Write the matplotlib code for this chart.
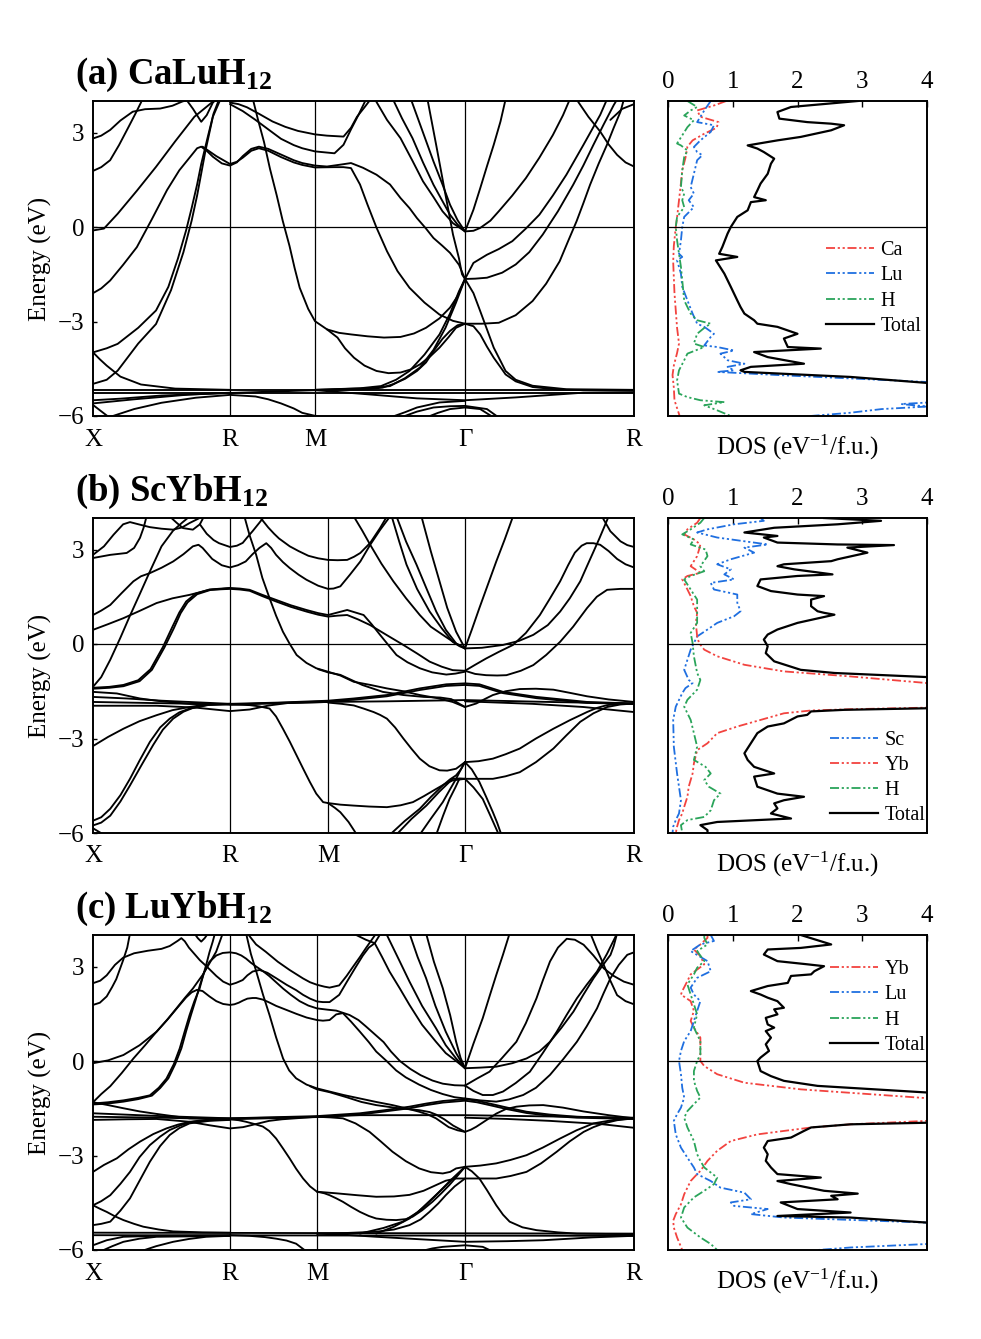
import numpy as np
import matplotlib
matplotlib.use('Agg')
import matplotlib.pyplot as plt

plt.rcParams['font.family'] = ['Liberation Serif', 'DejaVu Serif']
plt.rcParams['mathtext.fontset'] = 'custom'
plt.rcParams['mathtext.rm'] = 'Liberation Serif'
plt.rcParams['mathtext.it'] = 'Liberation Serif:italic'
plt.rcParams['mathtext.bf'] = 'Liberation Serif:bold'

# high-symmetry path (band energies are given as (u, E): u = 0 X, 1 R, 2 M, 3 Gamma, 4 R)
kpath_labels = ['X', 'R', 'M', 'Γ', 'R']
kticks_a = [0, 137, 222, 372, 541]
kticks_b = [0, 137, 235, 372, 541]
kticks_c = [0, 137, 224, 372, 541]

titles = [r'(a) CaLuH$_{\mathbf{12}}$', r'(b) ScYbH$_{\mathbf{12}}$', r'(c) LuYbH$_{\mathbf{12}}$']

# ---------------- CaLuH12 bands ----------------
bands_a = [
    [(0, -5.17), (4, -5.17)],
    [(0, -5.27), (4, -5.27)],
    [(0, -5.5), (0.2, -5.45), (0.5, -5.35), (1, -5.27), (2, -5.18), (2.35, -5.31), (2.68, -5.44), (3, -5.5),
     (3.3, -5.41), (3.7, -5.26), (4, -5.25)],
    [(0, -5.6), (0.3, -5.47), (0.7, -5.32), (1, -5.26)],
    [(0, -5.65), (0.06, -5.85), (0.12, -6.05)],
    [(0.11, -6.05), (0.3, -5.78), (0.5, -5.58), (0.75, -5.42), (1, -5.33), (1.3, -5.38), (1.45, -5.47),
     (1.6, -5.6), (1.75, -5.76), (1.85, -5.9), (2.05, -6.05)],
    [(0, -3.98), (0.05, -4.2), (0.1, -4.4), (0.2, -4.75), (0.35, -5.0), (0.6, -5.13), (1, -5.17)],
    [(0, -3.98), (0.1, -3.85), (0.18, -3.71), (0.33, -3.2), (0.46, -2.65), (0.55, -1.9), (0.62, -1.0),
     (0.68, -0.1), (0.72, 0.6), (0.76, 1.35), (0.79, 2.0), (0.84, 2.9), (0.88, 3.6), (0.92, 4.05)],
    [(0, -4.98), (0.1, -4.85), (0.18, -4.56), (0.33, -3.7), (0.46, -3.08), (0.57, -2.0), (0.66, -0.8),
     (0.72, 0.2), (0.76, 1.0), (0.82, 2.4), (0.875, 3.5), (0.93, 4.05)],
    [(0, -2.1), (0.06, -1.95), (0.125, -1.7), (0.22, -1.2), (0.32, -0.64), (0.43, 0.25), (0.54, 1.17),
     (0.63, 1.8), (0.71, 2.23), (0.76, 2.5), (0.79, 2.55), (0.83, 2.42), (0.875, 2.23), (0.94, 2.02),
     (1, 1.95), (1.08, 2.05), (1.15, 2.25), (1.25, 2.48), (1.34, 2.55), (1.45, 2.48), (1.6, 2.3),
     (1.75, 2.12), (1.85, 2.03), (2, 1.95), (2.08, 1.92), (2.17, 1.98), (2.24, 2.03), (2.32, 1.88),
     (2.41, 1.66), (2.5, 1.35), (2.57, 0.92), (2.63, 0.6), (2.68, 0.28), (2.74, -0.05), (2.79, -0.35),
     (2.85, -0.6), (2.9, -0.82), (2.96, -1.2), (3, -1.65), (3.06, -1.64), (3.13, -1.61), (3.22, -1.45),
     (3.3, -1.19), (3.38, -0.8), (3.46, -0.24), (3.55, 0.5), (3.64, 1.34), (3.7, 1.95), (3.76, 2.61),
     (3.82, 3.25), (3.88, 3.87), (3.9, 4.05)],
    [(0.8, 2.55), (0.85, 2.4), (0.9, 2.25), (1, 2.0), (1.08, 2.07), (1.15, 2.2), (1.25, 2.42), (1.34, 2.5),
     (1.45, 2.42), (1.6, 2.22), (1.75, 2.05), (1.85, 1.97), (2, 1.89), (2.13, 1.9), (2.19, 1.9),
     (2.24, 1.87), (2.3, 1.35), (2.35, 0.71), (2.41, -0.02), (2.48, -0.77), (2.55, -1.4), (2.63, -1.93),
     (2.73, -2.4), (2.83, -2.78), (2.92, -2.98), (3, -3.07), (3.1, -3.07), (3.2, -3.04), (3.3, -2.8),
     (3.4, -2.35), (3.48, -1.8), (3.56, -1.09), (3.61, -0.45), (3.66, 0.18), (3.7, 0.75), (3.74, 1.34),
     (3.79, 2.0), (3.84, 2.61), (3.88, 3.15), (3.92, 3.66), (3.94, 4.05)],
    [(0, 2.81), (0.06, 2.9), (0.125, 3.08), (0.2, 3.38), (0.29, 3.66), (0.38, 3.74), (0.49, 3.76),
     (0.58, 3.85), (0.65, 3.98), (0.7, 4.05)],
    [(0.68, 4.05), (0.73, 3.75), (0.79, 3.34), (0.83, 3.55), (0.875, 3.95), (0.9, 4.05)],
    [(0, 1.78), (0.06, 1.9), (0.125, 2.12), (0.19, 2.6), (0.26, 3.18), (0.31, 3.6), (0.35, 3.95), (0.36, 4.05)],
    [(0, -0.11), (0.08, -0.05), (0.18, 0.42), (0.32, 1.15), (0.46, 1.91), (0.6, 2.72), (0.74, 3.5),
     (0.875, 3.98), (0.9, 4.05)],
    [(1, 3.95), (1.1, 3.9), (1.2, 3.8), (1.35, 3.58), (1.5, 3.35), (1.65, 3.18), (1.8, 3.05), (2, 2.94),
     (2.08, 2.9), (2.19, 2.87), (2.24, 3.15), (2.28, 3.5), (2.33, 3.8), (2.37, 4.05)],
    [(1, 3.9), (1.15, 3.68), (1.3, 3.4), (1.45, 3.1), (1.6, 2.8), (1.75, 2.6), (1.85, 2.5), (2, 2.4),
     (2.13, 2.34), (2.19, 2.61), (2.24, 3.1), (2.29, 3.56), (2.34, 4.05)],
    [(1.27, 4.05), (1.33, 3.4), (1.4, 2.7), (1.47, 1.85), (1.55, 1.0), (1.62, 0.2), (1.7, -0.6),
     (1.76, -1.3), (1.82, -1.93), (1.92, -2.6), (2, -2.99), (2.08, -3.25), (2.16, -3.36), (2.24, -3.41),
     (2.35, -3.47), (2.46, -3.51), (2.57, -3.49), (2.66, -3.38), (2.74, -3.2), (2.83, -2.9), (2.9, -2.56),
     (2.95, -2.2), (3, -1.65)],
    [(2.08, -3.25), (2.15, -3.51), (2.2, -3.85), (2.26, -4.15), (2.33, -4.4), (2.41, -4.57), (2.49, -4.64),
     (2.57, -4.62), (2.64, -4.52), (2.7, -4.36), (2.77, -4.1), (2.83, -3.83), (2.89, -3.5), (2.94, -3.2),
     (3, -3.07)],
    [(2, -5.17), (2.3, -5.12), (2.44, -5.05), (2.54, -4.85), (2.63, -4.57), (2.73, -4.05), (2.83, -3.41),
     (2.9, -2.75), (2.96, -2.04), (3, -1.65), (3.05, -2.1), (3.09, -2.67), (3.13, -3.25), (3.17, -3.83),
     (3.21, -4.25), (3.24, -4.57), (3.3, -4.85), (3.4, -5.04), (3.6, -5.15), (4, -5.17)],
    [(2, -5.17), (2.35, -5.12), (2.5, -5.05), (2.6, -4.8), (2.7, -4.46), (2.79, -3.9), (2.87, -3.2),
     (2.94, -2.4), (3, -1.65), (3.05, -1.14), (3.13, -0.88), (3.2, -0.7), (3.28, -0.45), (3.36, -0.05),
     (3.44, 0.39), (3.52, 1.0), (3.6, 1.66), (3.7, 2.6), (3.8, 3.56), (3.84, 4.05)],
    [(2, -5.18), (2.35, -5.15), (2.45, -5.1), (2.52, -4.99), (2.6, -4.82), (2.68, -4.57), (2.74, -4.3),
     (2.79, -3.94), (2.85, -3.55), (2.9, -3.3), (2.95, -3.12), (3, -3.07), (3.05, -3.15), (3.09, -3.41),
     (3.13, -3.8), (3.17, -4.15), (3.21, -4.45), (3.24, -4.68), (3.3, -4.9), (3.4, -5.08), (3.55, -5.16),
     (3.7, -5.18), (4, -5.2)],
    [(2.4, 4.05), (2.48, 3.4), (2.57, 2.82), (2.65, 2.1), (2.72, 1.45), (2.79, 0.95), (2.85, 0.5),
     (2.92, 0.12), (3, -0.14), (3.05, -0.12), (3.09, -0.03), (3.15, 0.2), (3.2, 0.5), (3.28, 1.0),
     (3.36, 1.55), (3.44, 2.2), (3.52, 2.92), (3.58, 3.55), (3.62, 4.05)],
    [(2.52, 4.05), (2.58, 3.45), (2.65, 2.82), (2.72, 2.05), (2.79, 1.34), (2.85, 0.82), (2.9, 0.39),
     (2.95, 0.08), (3, -0.14), (3.05, 0.55), (3.09, 1.23), (3.13, 1.93), (3.17, 2.61), (3.21, 3.35),
     (3.24, 4.05)],
    [(2.64, 4.05), (2.72, 3.0), (2.79, 2.08), (2.85, 1.35), (2.9, 0.71), (2.95, 0.22), (3, -0.14)],
    [(2.75, 4.05), (2.81, 2.55), (2.87, 1.02), (2.92, -0.24), (2.96, -1.0), (2.98, -1.5), (3, -1.65)],
    [(3.66, 4.05), (3.73, 3.5), (3.8, 3.03), (3.85, 2.62), (3.9, 2.29), (3.95, 2.05), (4, 1.92)],
    [(3.86, 3.4), (3.93, 3.75), (4, 3.9)],
    [(2.5, -6.05), (2.6, -5.88), (2.68, -5.73), (2.83, -5.57), (3, -5.52)],
    [(2.57, -6.05), (2.68, -5.86), (2.79, -5.73), (2.9, -5.69), (3, -5.68), (3.13, -5.78), (3.2, -6.05)],
    [(2.74, -6.05), (2.82, -5.9), (2.9, -5.78), (3, -5.73), (3.09, -5.78), (3.17, -6.05)],
]

# ---------------- ScYbH12 bands ----------------
bands_b = [
    # X-R-M upper region
    [(0, 2.73), (0.126, 2.83), (0.246, 2.89), (0.3, 3.05), (0.343, 3.37), (0.37, 3.7), (0.391, 4.05)],
    [(0, 2.83), (0.08, 3.1), (0.15, 3.47), (0.22, 3.8), (0.27, 3.87), (0.35, 3.78), (0.415, 3.71),
     (0.5, 3.66), (0.585, 3.63), (0.65, 3.7), (0.705, 3.84), (0.76, 3.96), (0.8, 4.05)],
    [(0.56, 4.05), (0.61, 3.85), (0.657, 3.68), (0.729, 3.63), (0.78, 3.8), (0.81, 4.05)],
    [(0, 0.92), (0.06, 1.06), (0.126, 1.24), (0.21, 1.62), (0.295, 1.99), (0.35, 2.15), (0.415, 2.25),
     (0.5, 2.42), (0.585, 2.62), (0.66, 2.85), (0.729, 3.1), (0.77, 3.15), (0.8, 3.05), (0.87, 2.7),
     (0.94, 2.5), (1, 2.43), (1.08, 2.5), (1.16, 2.62), (1.23, 2.85), (1.3, 3.05), (1.37, 3.2),
     (1.42, 3.05), (1.47, 2.83), (1.54, 2.6), (1.61, 2.41), (1.7, 2.2), (1.78, 2.04), (1.9, 1.85),
     (2, 1.75), (2.04, 1.76), (2.09, 1.83), (2.16, 2.2), (2.236, 2.62), (2.308, 3.15), (2.38, 3.62),
     (2.453, 4.05)],
    [(0.78, 3.8), (0.83, 3.5), (0.88, 3.3), (0.92, 3.2), (1, 3.08), (1.07, 3.12), (1.13, 3.21),
     (1.18, 3.4), (1.23, 3.58), (1.3, 3.85), (1.35, 4.05)],
    [(1.3, 4.05), (1.39, 3.7), (1.45, 3.5), (1.5, 3.35), (1.61, 3.1), (1.7, 2.95), (1.8, 2.8), (1.9, 2.72),
     (2, 2.67), (2.07, 2.66), (2.14, 2.67), (2.19, 2.77), (2.236, 2.89), (2.308, 3.21), (2.38, 3.68),
     (2.43, 4.05)],
    [(2.188, 4.05), (2.25, 3.6), (2.308, 3.15), (2.39, 2.55), (2.477, 1.99), (2.57, 1.45), (2.67, 0.92),
     (2.75, 0.55), (2.838, 0.29), (2.92, 0.05), (3, -0.14)],
    # dome around R 1.75
    [(0, 0.45), (0.11, 0.63), (0.222, 0.82), (0.34, 1.05), (0.464, 1.3), (0.58, 1.45), (0.705, 1.56),
     (0.85, 1.72), (1, 1.75), (1.1, 1.73), (1.2, 1.69), (1.33, 1.52), (1.47, 1.35), (1.62, 1.18),
     (1.78, 1.03), (1.9, 0.93), (2, 0.87), (2.07, 0.9), (2.14, 0.92), (2.22, 0.78), (2.308, 0.6),
     (2.43, 0.28), (2.55, -0.03), (2.65, -0.3), (2.742, -0.56), (2.83, -0.72), (2.91, -0.83), (3, -0.85)],
    [(0, -1.39), (0.12, -1.36), (0.222, -1.3), (0.33, -1.15), (0.42, -0.8), (0.51, -0.1), (0.58, 0.55),
     (0.63, 1.0), (0.68, 1.35), (0.75, 1.6), (0.85, 1.73), (1, 1.78), (1.1, 1.76), (1.2, 1.72),
     (1.33, 1.56), (1.47, 1.4), (1.62, 1.23), (1.78, 1.08), (1.9, 0.98), (2, 0.92), (2.07, 1.0),
     (2.14, 1.08), (2.2, 1.0), (2.26, 0.92), (2.32, 0.62), (2.38, 0.29), (2.44, -0.03), (2.5, -0.35),
     (2.58, -0.58), (2.67, -0.77), (2.76, -0.9), (2.863, -0.97), (2.93, -0.94), (3, -0.88)],
    [(0, -1.42), (0.12, -1.39), (0.222, -1.34), (0.34, -1.18), (0.43, -0.82), (0.52, -0.12), (0.59, 0.5),
     (0.64, 0.98), (0.69, 1.32), (0.76, 1.58), (0.86, 1.72), (1, 1.77)],
    [(0, -1.36), (0.06, -1.05), (0.126, -0.5), (0.2, 0.2), (0.27, 0.9), (0.343, 1.6), (0.415, 2.3),
     (0.5, 3.1), (0.585, 3.6), (0.65, 3.85), (0.705, 4.05)],
    # flat cluster
    [(0, -1.52), (0.174, -1.57), (0.343, -1.73), (0.5, -1.82), (0.705, -1.9), (1, -1.92), (1.5, -1.88),
     (2, -1.84), (2.43, -1.82), (3, -1.78), (3.5, -1.84), (4, -1.89)],
    [(0, -1.68), (0.25, -1.73), (0.5, -1.8), (1, -1.9), (1.5, -1.86), (2, -1.8), (2.188, -1.73), (2.43, -1.62),
     (2.67, -1.41), (2.863, -1.28), (3, -1.25), (3.085, -1.28), (3.225, -1.52), (3.423, -1.68),
     (3.722, -1.84), (4, -1.89)],
    [(0, -1.84), (0.5, -1.88), (1, -1.92), (2, -1.82), (2.188, -1.77), (2.43, -1.66), (2.67, -1.46),
     (2.863, -1.33), (3, -1.3), (3.085, -1.33), (3.225, -1.56), (3.423, -1.72), (3.722, -1.87), (4, -1.9)],
    [(0, -1.96), (0.25, -1.96), (0.464, -1.96), (0.75, -2.02), (1, -2.13), (1.2, -2.08), (1.4, -1.95),
     (1.6, -1.87), (2, -1.84)],
    [(3, -1.82), (3.4, -1.9), (3.7, -2.0), (4, -2.16)],
    [(1.147, 4.05), (1.2, 3.45), (1.267, 2.83), (1.33, 2.1), (1.404, 1.45), (1.47, 0.9), (1.54, 0.39),
     (1.61, 0.0), (1.68, -0.35), (1.78, -0.6), (1.88, -0.77), (2, -0.88), (2.09, -1.0), (2.188, -1.2),
     (2.31, -1.3), (2.43, -1.41), (2.55, -1.5), (2.67, -1.62), (2.8, -1.72), (2.91, -1.84), (3, -2.0),
     (3.066, -1.89), (3.12, -1.74), (3.165, -1.62), (3.24, -1.5), (3.324, -1.43), (3.42, -1.42),
     (3.523, -1.45), (3.62, -1.55), (3.722, -1.66), (3.85, -1.76), (4, -1.84)],
    [(1.9, -0.8), (2, -0.9), (2.09, -0.98), (2.25, -1.3), (2.4, -1.52), (2.55, -1.62), (2.7, -1.68),
     (2.82, -1.7), (2.9, -1.75), (2.96, -1.9), (3, -2.0)],
    # lower X-R-M
    [(0, -3.24), (0.11, -2.95), (0.222, -2.69), (0.34, -2.45), (0.464, -2.26), (0.58, -2.1), (0.705, -2.0),
     (0.826, -1.92), (1, -1.9)],
    [(0, -5.61), (0.06, -5.5), (0.126, -5.23), (0.2, -4.8), (0.27, -4.28), (0.34, -3.7), (0.415, -3.11),
     (0.49, -2.65), (0.56, -2.37), (0.63, -2.17), (0.705, -2.05), (0.826, -1.94), (1, -1.9)],
    [(0, -5.76), (0.06, -5.67), (0.126, -5.45), (0.2, -5.0), (0.27, -4.49), (0.36, -3.8), (0.44, -3.2),
     (0.51, -2.72), (0.585, -2.37), (0.66, -2.15), (0.729, -2.03), (0.85, -1.93), (1, -1.9)],
    [(0, -5.85), (0.077, -6.05)],
    [(1, -1.92), (1.2, -1.94), (1.3, -1.98), (1.404, -2.05), (1.47, -2.3), (1.54, -2.69), (1.61, -3.1),
     (1.68, -3.54), (1.75, -3.98), (1.815, -4.38), (1.88, -4.75), (1.95, -5.02), (2, -5.05), (2.09, -5.1),
     (2.188, -5.13), (2.3, -5.16), (2.43, -5.18), (2.53, -5.12), (2.62, -5.02), (2.7, -4.83), (2.79, -4.6),
     (2.85, -4.45), (2.91, -4.33), (3, -4.28), (3.08, -4.28), (3.165, -4.28), (3.24, -4.2), (3.324, -4.07),
     (3.42, -3.75), (3.523, -3.32), (3.6, -2.9), (3.682, -2.47), (3.76, -2.2), (3.841, -2.0), (3.92, -1.92),
     (4, -1.89)],
    [(2, -5.05), (2.05, -5.2), (2.09, -5.34), (2.15, -5.65), (2.21, -6.05)],
    [(2, -1.86), (2.1, -1.9), (2.188, -1.95), (2.26, -2.05), (2.333, -2.16), (2.38, -2.25), (2.43, -2.37),
     (2.49, -2.65), (2.55, -3.0), (2.61, -3.33), (2.67, -3.64), (2.74, -3.88), (2.814, -4.01), (2.87, -4.02),
     (2.935, -3.96), (3, -3.75), (3.08, -3.72), (3.165, -3.64), (3.24, -3.5), (3.324, -3.32), (3.42, -3.0),
     (3.523, -2.69), (3.62, -2.42), (3.722, -2.16), (3.78, -2.03), (3.841, -1.94), (3.92, -1.9), (4, -1.89)],
    # fan below Gamma
    [(2.453, -6.05), (2.56, -5.62), (2.67, -5.23), (2.75, -4.86), (2.838, -4.49), (2.89, -4.3), (2.935, -4.17),
     (2.97, -3.98), (3, -3.75)],
    [(2.5, -6.05), (2.61, -5.55), (2.718, -5.13), (2.81, -4.7), (2.91, -4.28), (2.96, -4.27), (3, -4.28)],
    [(2.67, -6.05), (2.75, -5.55), (2.838, -5.02), (2.89, -4.62), (2.935, -4.28), (2.97, -3.98), (3, -3.75)],
    [(2.79, -6.05), (2.84, -5.45), (2.887, -4.92), (2.93, -4.55), (2.959, -4.28), (3, -4.28)],
    [(3, -3.75), (3.04, -3.98), (3.085, -4.38), (3.125, -4.85), (3.165, -5.34), (3.19, -5.67), (3.215, -6.05)],
    [(3, -4.28), (3.05, -4.55), (3.105, -4.92), (3.15, -5.45), (3.2, -6.05)],
    # upper M-Gamma-R
    [(2.465, 4.05), (2.52, 3.25), (2.573, 2.52), (2.65, 1.75), (2.742, 1.03), (2.83, 0.5), (2.91, 0.07),
     (2.96, -0.07), (3, -0.14)],
    [(2.5, 4.05), (2.57, 3.25), (2.646, 2.52), (2.72, 1.75), (2.79, 1.03), (2.86, 0.45), (2.935, 0.02),
     (3, -0.14)],
    [(2.682, 4.05), (2.75, 2.95), (2.814, 1.99), (2.87, 1.15), (2.935, 0.39), (3, -0.14)],
    [(3, -0.14), (3.04, 0.45), (3.085, 1.14), (3.135, 1.88), (3.185, 2.62), (3.235, 3.32), (3.284, 4.05)],
    [(3, -0.14), (3.1, -0.12), (3.225, -0.03), (3.32, 0.1), (3.404, 0.29), (3.49, 0.6), (3.563, 1.03),
     (3.62, 1.45), (3.682, 1.99), (3.72, 2.45), (3.761, 2.94), (3.795, 3.35), (3.821, 3.68), (3.85, 4.05)],
    [(3, -0.85), (3.06, -0.95), (3.125, -0.99), (3.19, -1.0), (3.245, -0.99), (3.33, -0.85), (3.404, -0.67),
     (3.48, -0.35), (3.563, 0.07), (3.64, 0.55), (3.722, 1.14), (3.78, 1.5), (3.841, 1.72), (3.92, 1.75),
     (4, 1.75)],
    [(3, -0.85), (3.06, -0.66), (3.125, -0.46), (3.2, -0.25), (3.284, -0.03), (3.36, 0.35), (3.443, 0.92),
     (3.5, 1.42), (3.563, 1.99), (3.61, 2.5), (3.65, 2.9), (3.69, 3.12), (3.72, 3.2), (3.76, 3.2), (3.8, 3.15),
     (3.85, 2.95), (3.9, 2.7), (3.95, 2.53), (4, 2.43)],
    [(3.81, 4.05), (3.86, 3.58), (3.92, 3.26), (3.96, 3.14), (4, 3.08)],
]

# ---------------- LuYbH12 bands ----------------
bands_c = [
    [(0, -5.45), (4, -5.48)],
    [(0, -5.53), (4, -5.55)],
    [(0, -5.85), (0.1, -5.69), (0.222, -5.58), (0.464, -5.55), (1, -5.53)],
    [(0.053, -6.05), (0.14, -5.88), (0.222, -5.74), (0.34, -5.64), (0.464, -5.58), (1, -5.55)],
    [(0.343, -6.05), (0.46, -5.88), (0.585, -5.74), (0.7, -5.65), (0.826, -5.58), (1, -5.55)],
    [(1, -5.53), (1.223, -5.55), (1.4, -5.59), (1.53, -5.64), (1.65, -5.7), (1.76, -5.8), (1.88, -6.05)],
    [(2, -5.48), (2.2, -5.52), (2.4, -5.58), (2.7, -5.66), (3, -5.74), (3.25, -5.72), (3.463, -5.69),
     (3.75, -5.6), (4, -5.55)],
    [(2.69, -6.05), (2.78, -5.95), (2.85, -5.9), (3, -5.85), (3.105, -5.9), (3.165, -6.05)],
    [(0, -4.58), (0.05, -4.69), (0.1, -4.79), (0.16, -4.93), (0.222, -5.05), (0.3, -5.17), (0.367, -5.26),
     (0.48, -5.35), (0.585, -5.41), (0.8, -5.44), (1, -5.45)],
    [(0, -4.58), (0.06, -4.45), (0.126, -4.26), (0.2, -3.9), (0.27, -3.52), (0.34, -3.05), (0.415, -2.67),
     (0.49, -2.4), (0.56, -2.19), (0.64, -2.04), (0.729, -1.93), (0.86, -1.88), (1, -1.85)],
    [(0, -5.21), (0.06, -5.17), (0.126, -5.1), (0.2, -4.75), (0.27, -4.36), (0.34, -3.8), (0.415, -3.2),
     (0.49, -2.7), (0.56, -2.35), (0.63, -2.13), (0.705, -1.98), (0.85, -1.9), (1, -1.87)],
    [(0, -3.52), (0.08, -3.3), (0.174, -3.09), (0.26, -2.8), (0.343, -2.56), (0.44, -2.32), (0.536, -2.14),
     (0.62, -2.02), (0.705, -1.93), (0.826, -1.87), (1, -1.85)],
    # flat cluster
    [(0, -1.31), (0.11, -1.4), (0.222, -1.5), (0.34, -1.6), (0.464, -1.68), (0.6, -1.76), (0.705, -1.82),
     (1, -1.82), (1.5, -1.8), (2, -1.77), (2.29, -1.72), (3, -1.72), (4, -1.8)],
    [(0, -1.66), (0.5, -1.75), (1, -1.82), (2, -1.75), (2.29, -1.66), (2.46, -1.56), (2.625, -1.45),
     (2.74, -1.35), (2.85, -1.27), (3, -1.21), (3.07, -1.26), (3.145, -1.35), (3.25, -1.48), (3.364, -1.61),
     (3.5, -1.7), (3.662, -1.77), (4, -1.82)],
    [(0, -1.77), (0.5, -1.8), (1, -1.85), (2, -1.78), (2.29, -1.7), (2.46, -1.6), (2.625, -1.5),
     (2.74, -1.4), (2.85, -1.32), (3, -1.26), (3.07, -1.31), (3.145, -1.4), (3.25, -1.53), (3.364, -1.65),
     (3.5, -1.74), (3.662, -1.8), (4, -1.84)],
    [(0, -1.87), (0.25, -1.85), (0.464, -1.84), (0.705, -1.93), (0.85, -2.04), (1, -2.14), (1.15, -2.1),
     (1.3, -2.0), (1.45, -1.9), (1.6, -1.85), (2, -1.77)],
    [(3, -1.8), (3.25, -1.84), (3.5, -1.9), (3.8, -2.0), (4, -2.12)],
    [(1.185, 4.05), (1.24, 3.4), (1.3, 2.86), (1.38, 2.1), (1.454, 1.46), (1.53, 0.75), (1.61, 0.08),
     (1.68, -0.3), (1.76, -0.55), (1.88, -0.75), (2, -0.87), (2.085, -0.97), (2.18, -1.08), (2.29, -1.19),
     (2.4, -1.3), (2.51, -1.4), (2.6, -1.5), (2.69, -1.61), (2.75, -1.7), (2.804, -1.82), (2.85, -1.97),
     (2.89, -2.1), (2.95, -2.2), (3, -2.25), (3.035, -2.18), (3.066, -2.09), (3.12, -1.9), (3.185, -1.67),
     (3.24, -1.53), (3.304, -1.45), (3.38, -1.41), (3.463, -1.4), (3.58, -1.48), (3.7, -1.6), (3.85, -1.72),
     (4, -1.82)],
    [(1.92, -0.8), (2, -0.9), (2.085, -0.99), (2.2, -1.15), (2.3, -1.3), (2.4, -1.4), (2.55, -1.5),
     (2.69, -1.56), (2.76, -1.62), (2.804, -1.7), (2.86, -1.85), (2.92, -2.05), (3, -2.25)],
    [(2, -1.77), (2.09, -1.79), (2.175, -1.82), (2.26, -1.98), (2.355, -2.25), (2.43, -2.55), (2.51, -2.88),
     (2.6, -3.18), (2.69, -3.41), (2.77, -3.53), (2.85, -3.57), (2.9, -3.52), (2.94, -3.41), (3, -3.36),
     (3.09, -3.32), (3.185, -3.25), (3.27, -3.14), (3.364, -2.99), (3.46, -2.75), (3.563, -2.46),
     (3.66, -2.2), (3.761, -1.98), (3.88, -1.87), (4, -1.82)],
    [(1, -1.85), (1.1, -1.88), (1.185, -1.93), (1.28, -2.0), (1.377, -2.08), (1.45, -2.22), (1.53, -2.46),
     (1.61, -2.78), (1.685, -3.09), (1.76, -3.42), (1.84, -3.73), (1.92, -3.98), (2, -4.15), (2.13, -4.2),
     (2.27, -4.26), (2.4, -4.31), (2.52, -4.3), (2.625, -4.25), (2.72, -4.12), (2.804, -3.94), (2.87, -3.8),
     (2.94, -3.73), (3, -3.73), (3.09, -3.73), (3.185, -3.73), (3.27, -3.65), (3.364, -3.52), (3.45, -3.25),
     (3.543, -2.88), (3.62, -2.55), (3.702, -2.25), (3.76, -2.1), (3.821, -1.98), (3.9, -1.88), (4, -1.82)],
    [(2, -4.15), (2.05, -4.2), (2.085, -4.26), (2.13, -4.36), (2.175, -4.47), (2.23, -4.63), (2.29, -4.79),
     (2.35, -4.92), (2.4, -5.0), (2.47, -5.04), (2.535, -5.05), (2.6, -5.02), (2.647, -4.94), (2.71, -4.74),
     (2.78, -4.47), (2.84, -4.2), (2.894, -3.94), (2.95, -3.64), (3, -3.36)],
    [(2, -5.48), (2.2, -5.46), (2.4, -5.42), (2.52, -5.35), (2.625, -5.21), (2.7, -5.03), (2.76, -4.79),
     (2.82, -4.52), (2.87, -4.26), (2.93, -3.98), (3, -3.73)],
    [(3, -3.36), (3.04, -3.5), (3.085, -3.73), (3.13, -4.1), (3.185, -4.58), (3.225, -4.88), (3.264, -5.1),
     (3.34, -5.28), (3.423, -5.37), (3.55, -5.44), (3.662, -5.48), (4, -5.5)],
    [(2.29, -5.48), (2.45, -5.3), (2.58, -5.1), (2.68, -4.8), (2.78, -4.36), (2.85, -4.05), (2.92, -3.73),
     (3, -3.36)],
    [(2.4, -5.48), (2.52, -5.26), (2.625, -5.0), (2.72, -4.65), (2.804, -4.26), (2.9, -3.8), (3, -3.36)],
    # upper X-R-M
    [(0, 2.47), (0.053, 2.55), (0.1, 2.72), (0.16, 3.05), (0.22, 3.28), (0.3, 3.42), (0.4, 3.5), (0.5, 3.56),
     (0.56, 3.65), (0.62, 3.82), (0.645, 3.9), (0.67, 3.8), (0.7, 3.6), (0.75, 3.35), (0.78, 3.2),
     (0.83, 3.0), (0.9, 2.7), (0.95, 2.52), (1, 2.42), (1.07, 2.48), (1.146, 2.57), (1.2, 2.72), (1.26, 2.84),
     (1.34, 2.89), (1.43, 2.8), (1.53, 2.63), (1.65, 2.42), (1.76, 2.25), (1.84, 2.1), (1.92, 1.98),
     (2, 1.89), (2.04, 1.87), (2.085, 1.87), (2.15, 2.1), (2.2, 2.5), (2.26, 2.97), (2.31, 3.35),
     (2.35, 3.6), (2.39, 3.74), (2.43, 4.05)],
    [(0.74, 4.05), (0.765, 3.9), (0.79, 3.79), (0.815, 3.9), (0.84, 4.05)],
    [(0, 1.78), (0.05, 1.85), (0.1, 2.05), (0.14, 2.35), (0.17, 2.6), (0.22, 3.2), (0.25, 3.6), (0.27, 4.05)],
    # X line near 0 rising to a hump, then down into R (1.78)
    [(0, -0.07), (0.11, 0.02), (0.222, 0.19), (0.34, 0.5), (0.464, 0.93), (0.55, 1.35), (0.633, 1.78),
     (0.68, 2.02), (0.72, 2.18), (0.76, 2.26), (0.8, 2.22), (0.85, 2.05), (0.9, 1.9), (0.95, 1.81),
     (1, 1.78), (1.05, 1.8), (1.1, 1.85), (1.15, 1.92), (1.2, 1.98), (1.26, 2.0), (1.3, 2.0), (1.377, 1.95),
     (1.45, 1.86), (1.53, 1.75), (1.65, 1.62), (1.76, 1.5), (1.88, 1.38), (2, 1.3), (2.04, 1.28),
     (2.085, 1.3), (2.13, 1.48), (2.175, 1.52), (2.23, 1.25), (2.29, 0.93), (2.35, 0.6), (2.4, 0.3),
     (2.47, 0.0), (2.535, -0.3), (2.6, -0.52), (2.69, -0.75), (2.77, -0.92), (2.85, -1.05), (2.93, -1.15),
     (3, -1.19)],
    [(1.2, 4.05), (1.3, 3.7), (1.41, 3.47), (1.55, 3.15), (1.685, 2.89), (1.84, 2.62), (1.92, 2.5),
     (2, 2.42), (2.05, 2.36), (2.085, 2.33), (2.15, 2.4), (2.2, 2.7), (2.24, 2.97), (2.29, 3.3),
     (2.33, 3.58), (2.37, 3.85), (2.4, 4.05)],
    [(0, -1.31), (0.06, -1.05), (0.126, -0.8), (0.21, -0.38), (0.295, 0.08), (0.38, 0.5), (0.464, 0.93),
     (0.54, 1.3), (0.609, 1.67), (0.67, 2.0), (0.729, 2.3), (0.77, 2.55), (0.8, 2.73), (0.85, 3.1),
     (0.899, 3.47), (0.947, 4.05)],
    [(0, -1.35), (0.11, -1.31), (0.222, -1.25), (0.33, -1.17), (0.415, -1.09), (0.48, -0.85), (0.536, -0.56),
     (0.59, -0.1), (0.633, 0.4), (0.67, 0.95), (0.705, 1.46), (0.74, 1.9), (0.778, 2.3), (0.8, 2.65),
     (0.826, 3.05), (0.85, 3.45), (0.874, 3.79), (0.89, 4.05)],
    # second steep line from X curving over into the R dome (3.45)
    [(0, -1.38), (0.11, -1.35), (0.222, -1.29), (0.33, -1.21), (0.43, -1.1), (0.49, -0.86), (0.55, -0.55),
     (0.6, -0.1), (0.645, 0.4), (0.68, 0.95), (0.715, 1.46), (0.75, 1.95), (0.78, 2.4), (0.81, 2.8),
     (0.85, 3.15), (0.9, 3.35), (0.947, 3.43), (1, 3.45), (1.07, 3.42), (1.13, 3.35), (1.185, 3.25),
     (1.24, 3.12), (1.3, 3.0), (1.38, 2.85), (1.45, 2.7), (1.53, 2.5), (1.61, 2.3), (1.7, 2.1), (1.8, 1.9),
     (1.9, 1.76), (2, 1.67), (2.07, 1.63), (2.13, 1.6), (2.22, 1.46), (2.28, 1.3), (2.33, 1.1), (2.39, 0.85),
     (2.45, 0.6), (2.5, 0.3), (2.56, 0.0), (2.63, -0.25), (2.7, -0.45), (2.78, -0.62), (2.85, -0.72),
     (2.93, -0.77), (3, -0.78)],
    # upper M-Gamma-R
    [(2.243, 4.05), (2.33, 3.85), (2.39, 3.74), (2.44, 3.3), (2.49, 2.84), (2.56, 2.3), (2.625, 1.78),
     (2.71, 1.15), (2.804, 0.61), (2.87, 0.25), (2.94, 0.0), (3, -0.23)],
    [(2.467, 4.05), (2.55, 3.25), (2.625, 2.52), (2.71, 1.75), (2.804, 1.04), (2.87, 0.5), (2.94, 0.08),
     (3, -0.23)],
    [(2.625, 4.05), (2.68, 3.3), (2.737, 2.63), (2.8, 1.75), (2.87, 0.93), (2.94, 0.25), (3, -0.23)],
    [(2.737, 4.05), (2.79, 3.15), (2.85, 2.31), (2.9, 1.45), (2.94, 0.61), (2.97, 0.1), (3, -0.23)],
    [(3, -0.23), (3.05, 0.55), (3.105, 1.36), (3.145, 2.05), (3.185, 2.73), (3.225, 3.38), (3.264, 4.05)],
    [(3, -0.23), (3.09, -0.21), (3.185, -0.18), (3.28, -0.07), (3.364, 0.08), (3.44, 0.3), (3.503, 0.61),
     (3.57, 1.05), (3.642, 1.57), (3.7, 2.1), (3.761, 2.63), (3.81, 3.0), (3.861, 3.37), (3.88, 3.65),
     (3.9, 4.05)],
    [(3, -0.78), (3.05, -0.95), (3.105, -1.08), (3.165, -1.08), (3.225, -0.97), (3.3, -0.7), (3.384, -0.34),
     (3.46, 0.25), (3.543, 0.93), (3.6, 1.45), (3.662, 1.99), (3.72, 2.42), (3.781, 2.84), (3.84, 3.4),
     (3.9, 4.05)],
    [(3, -0.78), (3.07, -0.56), (3.145, -0.34), (3.22, 0.1), (3.304, 0.61), (3.36, 1.2), (3.423, 1.99),
     (3.46, 2.55), (3.503, 3.16), (3.55, 3.6), (3.602, 3.88), (3.65, 3.85), (3.702, 3.69), (3.76, 3.35),
     (3.821, 2.94), (3.88, 2.7), (3.94, 2.52), (4, 2.42)],
    [(3.742, 4.05), (3.78, 3.55), (3.821, 3.05), (3.86, 2.55), (3.9, 2.09), (3.95, 1.9), (4, 1.8)],
    [(3, -1.19), (3.09, -1.25), (3.185, -1.29), (3.26, -1.22), (3.344, -1.08), (3.42, -0.85), (3.503, -0.44),
     (3.58, 0.05), (3.662, 0.61), (3.72, 1.1), (3.781, 1.67), (3.82, 2.15), (3.861, 2.63), (3.91, 3.05),
     (3.96, 3.37), (4, 3.45)],
]

# ---------------- DOS (E, states/eV/f.u.) ----------------
dos_a_ca = [(4.0, 0.9), (3.85, 0.7), (3.7, 0.45), (3.5, 0.5), (3.33, 0.78), (3.15, 0.75), (2.95, 0.55),
            (2.75, 0.38), (2.55, 0.3), (2.2, 0.27), (1.8, 0.22), (1.4, 0.2), (0.85, 0.17), (0.3, 0.14),
            (0.0, 0.12), (-0.6, 0.09), (-1.1, 0.08), (-1.6, 0.09), (-2.1, 0.1), (-2.65, 0.12), (-3.2, 0.14),
            (-3.7, 0.17), (-4.0, 0.14), (-4.4, 0.09), (-4.7, 0.07), (-5.1, 0.09), (-5.5, 0.1), (-5.75, 0.14),
            (-6.0, 0.18)]
dos_a_lu = [(4.0, 0.66), (3.7, 0.56), (3.33, 0.45), (3.23, 0.71), (3.02, 0.66), (2.75, 0.5), (2.54, 0.4),
            (2.38, 0.45), (2.28, 0.53), (2.12, 0.45), (1.69, 0.4), (1.27, 0.35), (1.06, 0.4), (0.85, 0.32),
            (0.63, 0.4), (0.32, 0.25), (0.0, 0.22), (-0.42, 0.2), (-0.85, 0.17), (-0.95, 0.22), (-1.06, 0.14),
            (-1.48, 0.2), (-1.9, 0.22), (-2.33, 0.3), (-2.75, 0.38), (-3.07, 0.45), (-3.17, 0.56),
            (-3.39, 0.71), (-3.49, 0.66), (-3.76, 0.56), (-3.81, 0.76), (-3.92, 1.02), (-4.02, 0.81),
            (-4.23, 0.92), (-4.34, 1.18), (-4.44, 0.92), (-4.55, 1.02), (-4.6, 0.76), (-4.71, 1.79),
            (-4.92, 4.0), (-5.0, 6.0), (-5.5, 6.0), (-5.55, 4.2), (-5.62, 3.6), (-5.7, 4.0), (-5.78, 3.3),
            (-5.9, 2.8), (-6.0, 2.2)]
dos_a_h = [(4.0, 0.3), (3.81, 0.45), (3.7, 0.35), (3.54, 0.25), (3.39, 0.4), (3.17, 0.3), (2.65, 0.14),
           (2.59, 0.2), (2.43, 0.3), (2.22, 0.25), (1.8, 0.22), (1.27, 0.2), (1.06, 0.25), (0.85, 0.22),
           (0.63, 0.25), (0.32, 0.14), (0.0, 0.12), (-0.42, 0.14), (-0.85, 0.17), (-1.27, 0.2), (-1.69, 0.22),
           (-2.33, 0.25), (-2.75, 0.35), (-2.96, 0.45), (-3.07, 0.66), (-3.17, 0.58), (-3.39, 0.45),
           (-3.7, 0.4), (-3.81, 0.56), (-4.02, 0.3), (-4.23, 0.25), (-4.55, 0.17), (-4.87, 0.14),
           (-5.29, 0.17), (-5.4, 0.3), (-5.5, 0.5), (-5.56, 0.87), (-5.66, 0.56), (-5.82, 0.76), (-6.0, 0.97)]
dos_a_tot = [(4.0, 2.93), (3.81, 1.9), (3.65, 1.69), (3.44, 1.72), (3.33, 2.15), (3.28, 2.52), (3.23, 2.72),
             (3.07, 2.52), (2.86, 2.05), (2.75, 1.69), (2.59, 1.23), (2.49, 1.38), (2.38, 1.48), (2.17, 1.64),
             (2.01, 1.59), (1.69, 1.54), (1.38, 1.43), (1.16, 1.38), (0.95, 1.33), (0.85, 1.51), (0.79, 1.28),
             (0.53, 1.23), (0.32, 1.07), (0.0, 0.97), (-0.21, 0.92), (-0.63, 0.84), (-0.85, 0.79),
             (-0.95, 1.07), (-1.06, 0.74), (-1.48, 0.87), (-1.9, 0.97), (-2.33, 1.07), (-2.54, 1.12),
             (-2.75, 1.18), (-2.96, 1.33), (-3.07, 1.38), (-3.17, 1.69), (-3.39, 2.0), (-3.54, 1.79),
             (-3.81, 1.85), (-3.86, 2.36), (-3.97, 1.33), (-4.13, 1.54), (-4.34, 2.1), (-4.44, 1.28),
             (-4.55, 1.12), (-4.6, 1.18), (-4.66, 1.79), (-4.76, 2.82), (-4.95, 4.0), (-5.1, 6.0), (-6.0, 6.0)]

dos_b_sc = [(4.0, 1.43), (3.91, 1.48), (3.8, 1.02), (3.64, 0.61), (3.54, 0.45), (3.38, 0.76), (3.16, 1.54),
            (3.06, 1.18), (2.9, 1.33), (2.69, 0.97), (2.53, 0.76), (2.37, 0.97), (2.21, 0.87), (2.05, 1.02),
            (1.94, 0.66), (1.73, 0.71), (1.57, 1.07), (1.31, 1.07), (1.04, 1.12), (0.88, 1.02), (0.67, 0.76),
            (0.46, 0.61), (0.24, 0.45), (0.03, 0.4), (-0.18, 0.35), (-0.5, 0.3), (-0.82, 0.25), (-1.14, 0.32),
            (-1.24, 0.38), (-1.4, 0.27), (-1.56, 0.22), (-1.99, 0.12), (-2.41, 0.08), (-3.26, 0.09),
            (-4.11, 0.14), (-4.96, 0.2), (-5.38, 0.17), (-5.59, 0.12), (-5.8, 0.08), (-6.0, 0.07)]
dos_b_yb = [(4.0, 0.5), (3.85, 0.45), (3.64, 0.3), (3.48, 0.25), (3.32, 0.4), (3.16, 0.5), (3.0, 0.48),
            (2.79, 0.45), (2.47, 0.35), (2.26, 0.5), (2.16, 0.3), (2.05, 0.22), (1.73, 0.3), (1.52, 0.35),
            (1.2, 0.4), (0.99, 0.45), (0.67, 0.43), (0.24, 0.45), (0.03, 0.48), (-0.18, 0.56), (-0.39, 0.76),
            (-0.66, 1.18), (-0.87, 1.79), (-1.03, 2.82), (-1.24, 4.0), (-1.4, 6.0), (-1.85, 6.0), (-2.02, 4.0),
            (-2.07, 2.82), (-2.11, 2.21), (-2.2, 1.79), (-2.41, 1.43), (-2.62, 1.07), (-2.83, 0.76),
            (-3.15, 0.61), (-3.37, 0.45), (-3.79, 0.4), (-4.11, 0.38), (-4.32, 0.35), (-4.53, 0.32),
            (-4.85, 0.3), (-5.17, 0.25), (-5.38, 0.22), (-5.59, 0.17), (-5.8, 0.14), (-6.0, 0.12)]
dos_b_h = [(4.0, 0.56), (3.85, 0.5), (3.64, 0.35), (3.48, 0.22), (3.32, 0.4), (3.16, 0.35), (3.0, 0.58),
           (2.79, 0.61), (2.47, 0.5), (2.31, 0.56), (2.16, 0.35), (2.05, 0.25), (1.73, 0.35), (1.41, 0.45),
           (0.99, 0.45), (0.67, 0.45), (0.35, 0.35), (0.03, 0.38), (-0.39, 0.4), (-0.92, 0.45), (-1.14, 0.5),
           (-1.45, 0.45), (-1.77, 0.3), (-1.99, 0.25), (-2.41, 0.35), (-2.83, 0.4), (-3.26, 0.45),
           (-3.68, 0.4), (-3.9, 0.58), (-4.11, 0.66), (-4.32, 0.56), (-4.53, 0.63), (-4.75, 0.81),
           (-4.96, 0.71), (-5.28, 0.66), (-5.49, 0.56), (-5.59, 0.3), (-5.75, 0.2), (-6.0, 0.22)]
dos_b_tot = [(4.0, 2.41), (3.91, 3.29), (3.8, 2.62), (3.69, 1.64), (3.54, 1.18), (3.43, 1.69), (3.38, 1.48),
             (3.22, 1.69), (3.16, 2.62), (3.14, 3.49), (3.06, 2.77), (2.9, 3.08), (2.69, 2.62), (2.63, 2.52),
             (2.53, 1.79), (2.47, 1.69), (2.37, 1.95), (2.21, 2.54), (2.16, 2.0), (2.05, 1.43), (1.84, 1.38),
             (1.68, 1.59), (1.57, 2.0), (1.52, 2.41), (1.41, 2.21), (1.2, 2.21), (1.04, 2.31), (0.99, 2.41),
             (0.93, 2.57), (0.88, 2.46), (0.67, 2.0), (0.46, 1.69), (0.3, 1.54), (0.14, 1.48), (-0.07, 1.54),
             (-0.29, 1.51), (-0.55, 1.64), (-0.82, 2.05), (-0.92, 2.57), (-1.05, 4.0), (-1.2, 6.0),
             (-1.9, 6.0), (-2.04, 4.0), (-2.09, 2.72), (-2.14, 2.21), (-2.25, 2.15), (-2.3, 2.0),
             (-2.52, 1.79), (-2.62, 1.54), (-2.83, 1.38), (-3.15, 1.28), (-3.47, 1.18), (-3.68, 1.23),
             (-3.9, 1.33), (-4.11, 1.64), (-4.21, 1.33), (-4.53, 1.38), (-4.75, 1.69), (-4.85, 2.1),
             (-4.96, 1.79), (-5.06, 1.64), (-5.22, 1.69), (-5.38, 1.59), (-5.54, 1.9), (-5.65, 0.76),
             (-5.75, 0.5), (-5.91, 0.61), (-6.0, 0.61)]

dos_c_yb = [(4.0, 0.61), (3.91, 0.61), (3.7, 0.5), (3.54, 0.4), (3.33, 0.5), (3.07, 0.56), (2.75, 0.35),
            (2.54, 0.3), (2.22, 0.22), (2.11, 0.2), (1.9, 0.35), (1.59, 0.4), (1.27, 0.35), (1.06, 0.4),
            (0.74, 0.5), (0.21, 0.5), (0.0, 0.5), (-0.16, 0.56), (-0.42, 0.76), (-0.69, 1.18), (-0.9, 2.05),
            (-1.18, 4.0), (-1.35, 6.0), (-1.8, 6.0), (-1.9, 4.0), (-2.01, 2.82), (-2.11, 2.21), (-2.22, 1.79),
            (-2.33, 1.38), (-2.54, 0.97), (-2.85, 0.76), (-3.17, 0.61), (-3.49, 0.5), (-3.59, 0.45),
            (-3.81, 0.35), (-4.02, 0.3), (-4.23, 0.25), (-4.55, 0.2), (-4.86, 0.12), (-5.07, 0.08),
            (-5.29, 0.09), (-5.6, 0.14), (-6.0, 0.22)]
dos_c_lu = [(4.0, 0.66), (3.81, 0.71), (3.7, 0.5), (3.49, 0.35), (3.17, 0.61), (2.85, 0.66), (2.64, 0.45),
            (2.33, 0.35), (2.11, 0.4), (1.9, 0.5), (1.59, 0.45), (1.27, 0.4), (0.95, 0.35), (0.63, 0.25),
            (0.32, 0.2), (0.0, 0.17), (-0.42, 0.2), (-0.85, 0.22), (-1.16, 0.25), (-1.48, 0.2), (-1.69, 0.14),
            (-1.9, 0.09), (-2.33, 0.12), (-2.75, 0.2), (-3.07, 0.3), (-3.38, 0.4), (-3.59, 0.45),
            (-3.81, 0.66), (-4.02, 0.81), (-4.18, 1.18), (-4.39, 1.28), (-4.49, 0.97), (-4.6, 1.02),
            (-4.7, 1.54), (-4.86, 1.28), (-4.97, 1.79), (-5.13, 4.0), (-5.3, 6.0), (-5.7, 6.0),
            (-5.81, 4.0), (-5.92, 2.82), (-6.0, 2.31)]
dos_c_h = [(4.0, 0.56), (3.91, 0.56), (3.7, 0.61), (3.49, 0.45), (3.17, 0.56), (2.96, 0.45), (2.75, 0.4),
           (2.43, 0.3), (2.11, 0.35), (1.8, 0.4), (1.48, 0.45), (1.06, 0.4), (0.63, 0.5), (0.21, 0.5),
           (0.0, 0.45), (-0.32, 0.4), (-0.63, 0.4), (-0.95, 0.45), (-1.16, 0.5), (-1.37, 0.4), (-1.59, 0.3),
           (-1.8, 0.25), (-2.11, 0.3), (-2.54, 0.4), (-2.96, 0.45), (-3.17, 0.5), (-3.38, 0.56), (-3.7, 0.76),
           (-3.91, 0.71), (-4.12, 0.56), (-4.33, 0.4), (-4.65, 0.25), (-4.97, 0.2), (-5.29, 0.3), (-5.6, 0.5),
           (-5.81, 0.66), (-6.0, 0.76)]
dos_c_tot = [(4.0, 2.05), (3.7, 2.52), (3.59, 2.05), (3.54, 1.54), (3.38, 1.48), (3.17, 1.69), (3.07, 2.15),
             (3.01, 2.41), (2.85, 2.26), (2.75, 2.21), (2.7, 1.9), (2.48, 1.85), (2.38, 1.54), (2.22, 1.28),
             (2.11, 1.43), (2.01, 1.54), (1.9, 1.69), (1.69, 1.79), (1.64, 1.64), (1.48, 1.69), (1.37, 1.51),
             (1.16, 1.54), (1.06, 1.64), (0.95, 1.51), (0.74, 1.59), (0.53, 1.51), (0.32, 1.56), (0.11, 1.43),
             (0.0, 1.38), (-0.32, 1.43), (-0.48, 1.59), (-0.63, 1.79), (-0.79, 2.31), (-1.0, 4.0), (-1.2, 6.0),
             (-1.8, 6.0), (-1.96, 4.0), (-2.01, 2.82), (-2.11, 2.21), (-2.22, 2.1), (-2.43, 1.9), (-2.54, 1.54),
             (-2.75, 1.48), (-2.96, 1.54), (-3.17, 1.51), (-3.38, 1.59), (-3.59, 1.69), (-3.7, 2.36),
             (-3.81, 1.69), (-3.91, 1.9), (-4.12, 2.41), (-4.21, 2.93), (-4.28, 2.52), (-4.39, 2.62),
             (-4.49, 1.74), (-4.7, 2.0), (-4.81, 2.82), (-4.92, 1.69), (-4.97, 2.82), (-5.13, 4.0), (-5.3, 6.0),
             (-6.0, 6.0)]

red = '#f2433f'
blue = '#1f6fe0'
green = '#2aa45a'

dos_sets = [
    [('Ca', dos_a_ca, red), ('Lu', dos_a_lu, blue), ('H', dos_a_h, green)],
    [('Sc', dos_b_sc, blue), ('Yb', dos_b_yb, red), ('H', dos_b_h, green)],
    [('Yb', dos_c_yb, red), ('Lu', dos_c_lu, blue), ('H', dos_c_h, green)],
]
dos_totals = [dos_a_tot, dos_b_tot, dos_c_tot]
all_bands = [bands_a, bands_b, bands_c]
all_kticks = [kticks_a, kticks_b, kticks_c]
legend_anchor = [(0.61, 0.555), (0.625, 0.325), (0.625, 0.92)]

fig = plt.figure(figsize=(9.81, 13.39), dpi=100)
W, H = 981.0, 1339.0
row_tops = [101, 518, 935]
title_base = [84, 501, 918]

for i in range(3):
    top = row_tops[i]
    axb = fig.add_axes([93 / W, 1 - (top + 315) / H, 541 / W, 315 / H])
    axd = fig.add_axes([668 / W, 1 - (top + 315) / H, 259 / W, 315 / H])

    kt = all_kticks[i]
    for band in all_bands[i]:
        u, e = zip(*band)
        k = np.interp(u, [0, 1, 2, 3, 4], kt)
        axb.plot(k, e, color='k', lw=1.35, solid_joinstyle='round', solid_capstyle='round')
    for x in kt[1:-1]:
        axb.axvline(x, color='k', lw=0.9)
    axb.axhline(0, color='k', lw=0.9)
    axb.set_xlim(kt[0], kt[-1])
    axb.set_ylim(-6, 4)
    axb.set_xticks(kt)
    axb.set_xticklabels(kpath_labels)
    axb.set_yticks([-6, -3, 0, 3])
    axb.tick_params(axis='x', length=0, pad=9, labelsize=18)
    axb.tick_params(axis='y', direction='in', length=3, width=1, pad=6, labelsize=18)
    axb.set_ylabel('Energy (eV)', fontsize=18, labelpad=4)
    for s in axb.spines.values():
        s.set_linewidth(1.4)

    for name, data, col in dos_sets[i]:
        e, d = zip(*data)
        axd.plot(d, e, color=col, lw=1.3, dashes=(5, 1.5, 1.2, 1.5, 1.2, 1.5), label=name)
    e, d = zip(*dos_totals[i])
    axd.plot(d, e, color='k', lw=1.6, label='Total')
    axd.axhline(0, color='k', lw=0.9)
    axd.set_xlim(0, 4)
    axd.set_ylim(-6, 4)
    axd.set_yticks([])
    axd.set_xticks([0, 1, 2, 3, 4])
    axd.xaxis.tick_top()
    axd.tick_params(axis='x', direction='in', length=4, width=1, pad=6, labelsize=18)
    axd.set_xlabel(r'DOS (eV$^{-1}$/f.u.)', fontsize=18, labelpad=12)
    for s in axd.spines.values():
        s.set_linewidth(1.4)
    axd.legend(loc='upper left', bbox_to_anchor=legend_anchor[i], frameon=False, fontsize=14.5,
               handlelength=2.4, handletextpad=0.3, labelspacing=0.3, borderpad=0, borderaxespad=0)

    fig.text(75 / W, 1 - title_base[i] / H, titles[i], fontsize=26.5, fontweight='bold', va='baseline')

fig.savefig('out.png', dpi=100)
